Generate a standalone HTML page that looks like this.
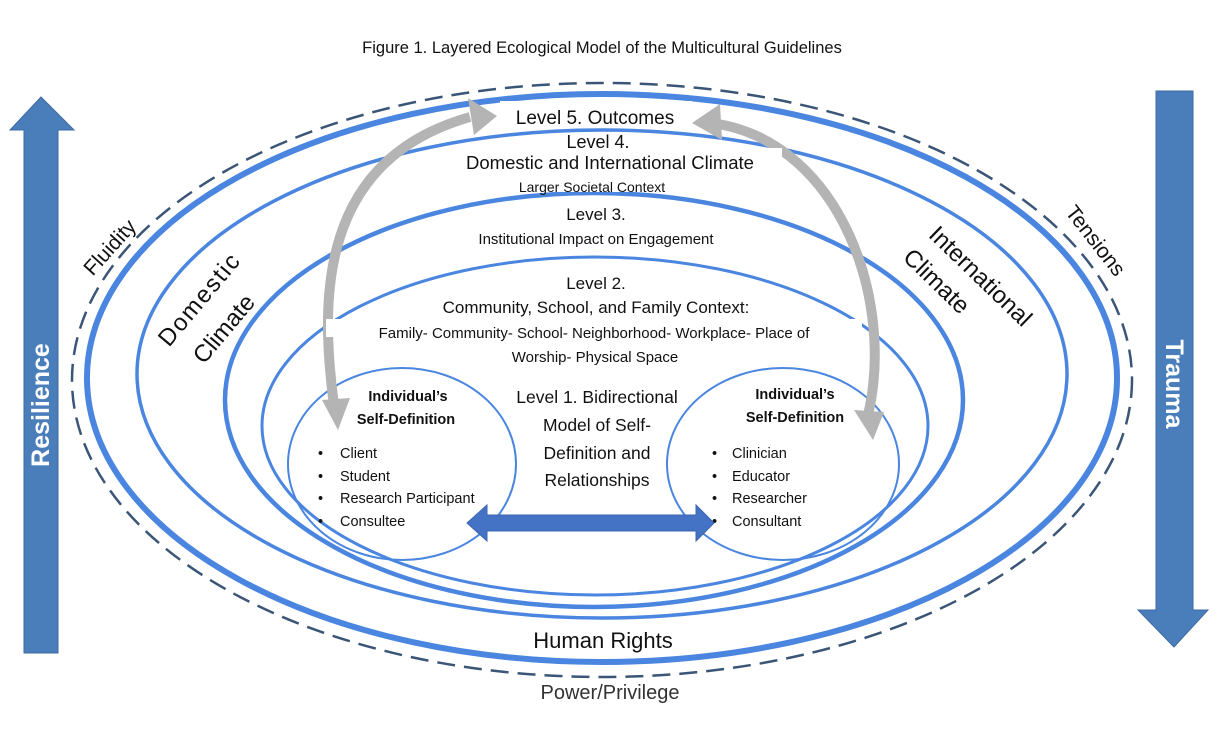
<!DOCTYPE html>
<html><head><meta charset="utf-8"><style>
html,body{margin:0;padding:0;background:#fff;}
svg{display:block;}
text{font-family:"Liberation Sans",sans-serif;fill:#111;}
</style></head><body>
<svg width="1225" height="735" viewBox="0 0 1225 735" xmlns="http://www.w3.org/2000/svg">
<rect width="1225" height="735" fill="#fff"/>
<text x="602" y="53" font-size="16.5" text-anchor="middle">Figure 1. Layered Ecological Model of the Multicultural Guidelines</text>

<polygon points="41,97 74,130 58,130 58,653 24,653 24,130 10,130" fill="#4a7ebb" stroke="#3d6aa3" stroke-width="1"/>
<text transform="translate(49,405) rotate(-90)" font-size="25" font-weight="bold" text-anchor="middle" style="fill:#fff">Resilience</text>
<polygon points="1156,91 1193,91 1193,610 1208,610 1174,647 1138,610 1156,610" fill="#4a7ebb" stroke="#3d6aa3" stroke-width="1"/>
<text transform="translate(1166,384) rotate(90)" font-size="25" font-weight="bold" text-anchor="middle" style="fill:#fff">Trauma</text>

<g fill="none" stroke="#4a86e0">
<ellipse cx="602" cy="380" rx="530" ry="297" stroke="#3b5577" stroke-width="2.5" stroke-dasharray="18,9"/>
<ellipse cx="602" cy="378" rx="515" ry="284" stroke-width="6"/>
<ellipse cx="602" cy="374" rx="465" ry="244" stroke-width="3.5"/>
<ellipse cx="594" cy="400" rx="369" ry="207" stroke-width="4.5"/>
<ellipse cx="595" cy="426" rx="333" ry="169" stroke-width="3"/>
<ellipse cx="402" cy="464" rx="114" ry="96" stroke-width="2"/>
<ellipse cx="783" cy="464" rx="116" ry="96" stroke-width="2"/>
</g>

<g fill="none" stroke="#b4b4b4" stroke-width="10">
<path d="M334,405 C320,300 318,160 470,117"/>
<path d="M718,124 C840,145 895,300 868,415"/>
</g>
<g fill="#b4b4b4">
<polygon points="497,116 468,98 474,135"/>
<polygon points="338,430 322,400 350,398"/>
<polygon points="692,123 720,104 722,140"/>
<polygon points="873,440 854,410 884,412"/>
</g>

<g fill="#fff">
<rect x="500" y="101" width="192" height="22"/>
<rect x="438" y="148" width="344" height="20"/>
<rect x="495" y="174" width="196" height="18"/>
<rect x="565" y="200" width="60" height="20"/>
<rect x="440" y="226" width="312" height="18"/>
<rect x="560" y="268" width="70" height="20"/>
<rect x="400" y="293" width="390" height="20"/>
<rect x="326" y="319" width="536" height="18"/>
<rect x="496" y="343" width="198" height="18"/>
</g>

<g text-anchor="middle">
<text x="595" y="124" font-size="19">Level 5. Outcomes</text>
<text x="598" y="148" font-size="18">Level 4.</text>
<text x="610" y="169" font-size="18.5">Domestic and International Climate</text>
<text x="592" y="192" font-size="14">Larger Societal  Context</text>
<text x="596" y="220" font-size="17">Level 3.</text>
<text x="596" y="244" font-size="15">Institutional Impact on Engagement</text>
<text x="596" y="289" font-size="17">Level 2.</text>
<text x="596" y="313" font-size="17">Community, School, and Family Context:</text>
<text x="594" y="338" font-size="15">Family- Community- School- Neighborhood- Workplace- Place of</text>
<text x="595" y="362" font-size="15">Worship- Physical Space</text>

<text x="597" y="403" font-size="17.5">Level 1. Bidirectional</text>
<text x="597" y="431" font-size="17.5">Model of Self-</text>
<text x="597" y="459" font-size="17.5">Definition and</text>
<text x="597" y="486" font-size="17.5">Relationships</text>

<text x="408" y="401" font-size="14.5" font-weight="bold">Individual’s</text>
<text x="406" y="424" font-size="14.5" font-weight="bold">Self-Definition</text>
<text x="795" y="399" font-size="14.5" font-weight="bold">Individual’s</text>
<text x="795" y="422" font-size="14.5" font-weight="bold">Self-Definition</text>
</g>

<g font-size="14.5">
<text x="318" y="458">•</text><text x="340" y="458">Client</text>
<text x="318" y="481">•</text><text x="340" y="481">Student</text>
<text x="318" y="503">•</text><text x="340" y="503">Research Participant</text>
<text x="318" y="526">•</text><text x="340" y="526">Consultee</text>
<text x="712" y="458">•</text><text x="732" y="458">Clinician</text>
<text x="712" y="481">•</text><text x="732" y="481">Educator</text>
<text x="712" y="503">•</text><text x="732" y="503">Researcher</text>
<text x="712" y="526">•</text><text x="732" y="526">Consultant</text>
</g>

<polygon points="467,523 487,505 487,515 696,515 696,505 714,523 696,541 696,531 487,531 487,541" fill="#4472c4" stroke="#3a64b0" stroke-width="1"/>

<text x="603" y="648" font-size="22" text-anchor="middle">Human Rights</text>
<text x="610" y="699" font-size="20" text-anchor="middle" style="fill:#333">Power/Privilege</text>

<text transform="translate(115,252) rotate(-48)" font-size="21" text-anchor="middle">Fluidity</text>
<text transform="translate(205,305) rotate(-50)" font-size="24" text-anchor="middle" textLength="112">Domestic</text>
<text transform="translate(230,334) rotate(-50)" font-size="24" text-anchor="middle">Climate</text>
<text transform="translate(975,282) rotate(44)" font-size="24" text-anchor="middle">International</text>
<text transform="translate(931,287) rotate(44)" font-size="24" text-anchor="middle">Climate</text>
<text transform="translate(1090,245) rotate(52)" font-size="21" text-anchor="middle">Tensions</text>
</svg>
</body></html>
